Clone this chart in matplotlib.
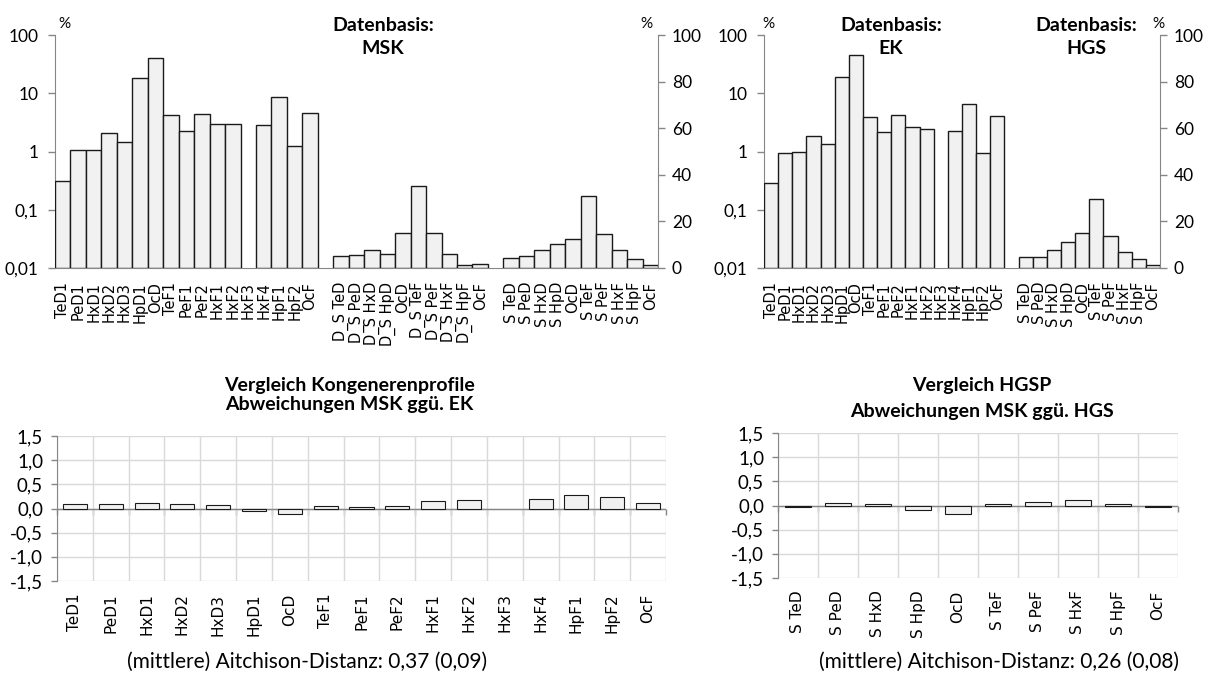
import matplotlib
matplotlib.use('Agg')
import matplotlib.pyplot as plt
import numpy as np
from matplotlib.ticker import FixedLocator, FixedFormatter, NullLocator

W, H, DPI = 1210, 686, 100

# ---------------- data ----------------
congeners = ['TeD1', 'PeD1', 'HxD1', 'HxD2', 'HxD3', 'HpD1', 'OcD', 'TeF1', 'PeF1',
             'PeF2', 'HxF1', 'HxF2', 'HxF3', 'HxF4', 'HpF1', 'HpF2', 'OcF']
msk_profile = [0.31, 1.05, 1.08, 2.06, 1.43, 18.1, 40.9, 4.2, 2.23, 4.42, 3.02, 2.98,
               np.nan, 2.83, 8.54, 1.23, 4.54]
ek_profile = [0.29, 0.96, 0.97, 1.88, 1.36, 19.2, 44.7, 3.89, 2.18, 4.21, 2.65, 2.48,
              np.nan, 2.27, 6.43, 0.95, 4.0]

ds_labels = ['D_S TeD', 'D_S PeD', 'D_S HxD', 'D_S HpD', 'OcD', 'D_S TeF', 'D_S PeF',
             'D_S HxF', 'D_S HpF', 'OcF']
msk_ds = [5.2, 5.7, 7.9, 5.9, 15.1, 35.4, 15.1, 6.0, 1.3, 1.6]

s_labels = ['S TeD', 'S PeD', 'S HxD', 'S HpD', 'OcD', 'S TeF', 'S PeF', 'S HxF',
            'S HpF', 'OcF']
msk_s = [4.4, 5.2, 7.9, 10.5, 12.6, 30.8, 14.6, 7.9, 3.9, 1.3]
hgs_s = [4.6, 4.7, 7.7, 11.2, 15.1, 29.7, 13.6, 6.9, 3.9, 1.3]

diff_ek = [0.096, 0.096, 0.11, 0.096, 0.069, -0.055, -0.11, 0.062, 0.028, 0.048,
           0.15, 0.186, np.nan, 0.2, 0.27, 0.24, 0.117]
diff_hgs = [-0.035, 0.062, 0.028, -0.097, -0.186, 0.041, 0.069, 0.11, 0.041, -0.035]

log_ticks = [0.01, 0.1, 1, 10, 100]
log_tick_labels = ['0,01', '0,1', '1', '10', '100']
pct_ticks = [0, 20, 40, 60, 80, 100]
pct_tick_labels = ['0', '20', '40', '60', '80', '100']
diff_ticks = [-1.5, -1.0, -0.5, 0.0, 0.5, 1.0, 1.5]
diff_tick_labels = ['-1,5', '-1,0', '-0,5', '0,0', '0,5', '1,0', '1,5']

dist_left = '(mittlere) Aitchison-Distanz: 0,37 (0,09)'
dist_right = '(mittlere) Aitchison-Distanz: 0,26 (0,08)'

# ---------------- style ----------------
FONT = ['Lato', 'DejaVu Sans']
LABFONT = ['Liberation Sans Narrow', 'DejaVu Sans']
plt.rcParams['font.family'] = FONT
BAR_FC = '#f0f1f0'
BAR_EC = '#1a1a1a'
AX_C = '#868686'
GRID_C = '#d9d9d9'
TXT = '#000000'

fig = plt.figure(figsize=(W / DPI, H / DPI), dpi=DPI)


def px_axes(x0, y0, x1, y1):
    return fig.add_axes([x0 / W, 1 - y1 / H, (x1 - x0) / W, (y1 - y0) / H])


def ftext(x, y, s, **kw):
    fig.text(x / W, 1 - y / H, s, **kw)


def top_chart(rect, log_vals, groups):
    ax = px_axes(*rect)
    n_log = len(congeners)
    labels = list(congeners)
    x_log = np.arange(n_log)
    v = np.array(log_vals, dtype=float)
    ok = ~np.isnan(v)
    ax.set_yscale('log')
    ax.bar(x_log[ok], v[ok] - 0.01, bottom=0.01, width=1.0, color=BAR_FC,
           edgecolor=BAR_EC, linewidth=1.0, zorder=3)
    ax2 = ax.twinx()
    pos = n_log
    for glabels, gvals in groups:
        labels.append('')
        pos += 1
        xs = np.arange(pos, pos + len(gvals))
        ax2.bar(xs, gvals, width=1.0, color=BAR_FC, edgecolor=BAR_EC,
                linewidth=1.0, zorder=3)
        labels.extend(glabels)
        pos += len(gvals)
    n = len(labels)
    ax.set_xlim(-0.5, n - 0.5)
    ax.set_ylim(0.01, 100)
    ax2.set_ylim(0, 100)
    ax.yaxis.set_major_locator(FixedLocator(log_ticks))
    ax.yaxis.set_major_formatter(FixedFormatter(log_tick_labels))
    ax.yaxis.set_minor_locator(NullLocator())
    ax2.yaxis.set_major_locator(FixedLocator(pct_ticks))
    ax2.yaxis.set_major_formatter(FixedFormatter(pct_tick_labels))
    ax.set_xticks(np.arange(n))
    ax.set_xticklabels(labels, rotation=90, fontfamily=LABFONT, fontsize=10.5)
    ax.tick_params(axis='x', length=0, pad=10)
    ax.tick_params(axis='y', direction='out', length=5, width=1, color=AX_C,
                   labelsize=12.5, pad=7)
    ax2.tick_params(axis='y', direction='out', length=5, width=1, color=AX_C,
                    labelsize=12.5, pad=5)
    for s in ['top', 'right']:
        ax.spines[s].set_visible(False)
    for s in ['top', 'left', 'bottom']:
        ax2.spines[s].set_visible(False)
    ax.spines['left'].set_color(AX_C)
    ax.spines['bottom'].set_color(AX_C)
    ax2.spines['right'].set_color(AX_C)
    ax.patch.set_visible(False)
    return ax


def diff_chart(rect, labels, vals):
    ax = px_axes(*rect)
    n = len(labels)
    x = np.arange(n)
    v = np.array(vals, dtype=float)
    ok = ~np.isnan(v)
    ax.bar(x[ok], v[ok], width=0.67, color=BAR_FC, edgecolor=BAR_EC,
           linewidth=0.8, zorder=3)
    ax.set_xlim(-0.5, n - 0.5)
    ax.set_ylim(-1.5, 1.5)
    ax.set_yticks(diff_ticks)
    ax.set_yticklabels(diff_tick_labels)
    ax.set_xticks(x)
    ax.set_xticklabels(labels, rotation=90, fontfamily=LABFONT, fontsize=11)
    ax.set_xticks(np.arange(n + 1) - 0.5, minor=True)
    ax.grid(True, which='minor', axis='x', color=GRID_C, linewidth=1, zorder=0)
    ax.grid(True, which='major', axis='y', color=GRID_C, linewidth=1, zorder=0)
    ax.set_axisbelow(True)
    ax.tick_params(axis='x', which='both', length=0, pad=9)
    ax.tick_params(axis='y', direction='out', length=4, width=1, color=AX_C,
                   labelsize=13.5, pad=6)
    for s in ['top', 'right', 'bottom']:
        ax.spines[s].set_visible(False)
    ax.spines['left'].set_color(AX_C)
    ax.axhline(0, color=AX_C, linewidth=1, zorder=2)
    sec = ax.secondary_xaxis(0.5)
    sec.xaxis.set_ticks_position('bottom')
    sec.set_xticks(np.arange(n + 1) - 0.5)
    sec.tick_params(axis='x', direction='out', length=4, width=1, color=AX_C,
                    labelbottom=False, labeltop=False)
    for s in sec.spines.values():
        s.set_visible(False)
    return ax


top_chart((55, 35, 658, 268), msk_profile, [(ds_labels, msk_ds), (s_labels, msk_s)])
top_chart((764, 35, 1160, 268), ek_profile, [(s_labels, hgs_s)])
diff_chart((57, 436, 666, 581), congeners, diff_ek)
diff_chart((778, 433, 1178, 578), s_labels, diff_hgs)

# ---------------- texts ----------------
tkw = dict(ha='center', va='baseline', fontweight='bold', fontsize=14, color=TXT)
ftext(383, 31, 'Datenbasis:', **tkw)
ftext(383, 54, 'MSK', **tkw)
ftext(891, 31, 'Datenbasis:', **tkw)
ftext(891, 54, 'EK', **tkw)
ftext(1086, 31, 'Datenbasis:', **tkw)
ftext(1086, 54, 'HGS', **tkw)

pkw = dict(ha='center', va='baseline', fontsize=11, color=TXT)
ftext(64, 28, '%', **pkw)
ftext(646, 28, '%', **pkw)
ftext(768, 28, '%', **pkw)
ftext(1158, 28, '%', **pkw)

ftext(349, 391, 'Vergleich Kongenerenprofile', **tkw)
ftext(349, 410, 'Abweichungen MSK ggü. EK', **tkw)
ftext(982, 391, 'Vergleich HGSP', **tkw)
ftext(982, 417, 'Abweichungen MSK ggü. HGS', **tkw)

dkw = dict(ha='center', va='baseline', fontsize=15, color=TXT)
ftext(307, 668, dist_left, **dkw)
ftext(999, 668, dist_right, **dkw)

fig.savefig('out.png', dpi=DPI)
